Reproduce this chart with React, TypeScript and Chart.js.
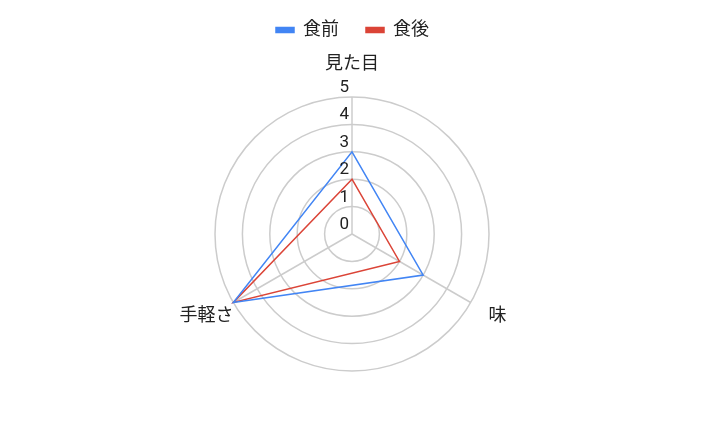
import React, { useEffect, useRef } from "react";
import { Chart, registerables } from "chart.js";

Chart.register(...registerables);

const categories = ["見た目", "味", "手軽さ"];
const seriesNames = ["食前", "食後"];
const beforeValues = [3, 3, 5];
const afterValues = [2, 2, 5];
const seriesColors = ["#4285F4", "#DB4437"];
const tickValues = [0, 1, 2, 3, 4, 5];

const CJK_FONT = "Roboto, 'Noto Sans CJK JP', 'Noto Sans', sans-serif";

const labelPlugin = {
  id: "customRadarLabels",
  afterDatasetsDraw(chart: any) {
    const scale = chart.scales.r;
    const ctx = chart.ctx;
    ctx.save();
    // tick labels above each ring, left of the vertical axis
    ctx.font = `17px ${CJK_FONT}`;
    ctx.fillStyle = "#222222";
    ctx.textAlign = "right";
    ctx.textBaseline = "alphabetic";
    scale.ticks.forEach((t: any) => {
      const d = scale.getDistanceFromCenterForValue(t.value);
      ctx.fillText(String(t.label), scale.xCenter - 3, scale.yCenter - d - 5);
    });
    // point labels
    ctx.font = `18px ${CJK_FONT}`;
    ctx.textAlign = "center";
    ctx.textBaseline = "middle";
    const labels: string[] = chart.data.labels;
    labels.forEach((lab, i) => {
      const p = scale.getPointPosition(i, scale.drawingArea + 31);
      ctx.fillText(lab, p.x, p.y - 2);
    });
    ctx.restore();
  },
};

export default function App() {
  const canvasRef = useRef<HTMLCanvasElement | null>(null);

  useEffect(() => {
    document.body.style.margin = "0";
    const canvas = canvasRef.current;
    if (!canvas) return;
    const chart = new Chart(canvas, {
      type: "radar",
      data: {
        labels: categories,
        datasets: [
          {
            label: seriesNames[0],
            data: beforeValues,
            borderColor: seriesColors[0],
            backgroundColor: seriesColors[0],
            borderWidth: 1.5,
            fill: false,
            pointRadius: 0,
            pointHoverRadius: 0,
          },
          {
            label: seriesNames[1],
            data: afterValues,
            borderColor: seriesColors[1],
            backgroundColor: seriesColors[1],
            borderWidth: 1.5,
            fill: false,
            pointRadius: 0,
            pointHoverRadius: 0,
          },
        ],
      },
      options: {
        animation: false,
        responsive: true,
        maintainAspectRatio: false,
        layout: {
          padding: { top: -6, bottom: 16, left: 215, right: 215 },
        },
        plugins: {
          legend: {
            display: true,
            position: "top",
            labels: {
              boxWidth: 18,
              boxHeight: 5,
              padding: 27,
              color: "#222222",
              font: { size: 18, family: CJK_FONT },
            },
          },
          tooltip: { enabled: false },
        },
        scales: {
          r: {
            min: tickValues[0],
            max: tickValues[tickValues.length - 1],
            ticks: { stepSize: 1, display: false },
            grid: { circular: true, color: "#cccccc", lineWidth: 1.5 },
            angleLines: { display: true, color: "#cccccc", lineWidth: 1.5 },
            pointLabels: { display: false },
          },
        },
      },
      plugins: [labelPlugin],
    });
    return () => chart.destroy();
  }, []);

  return (
    <div style={{ width: 705, height: 435, position: "relative" }}>
      <canvas ref={canvasRef} />
    </div>
  );
}
